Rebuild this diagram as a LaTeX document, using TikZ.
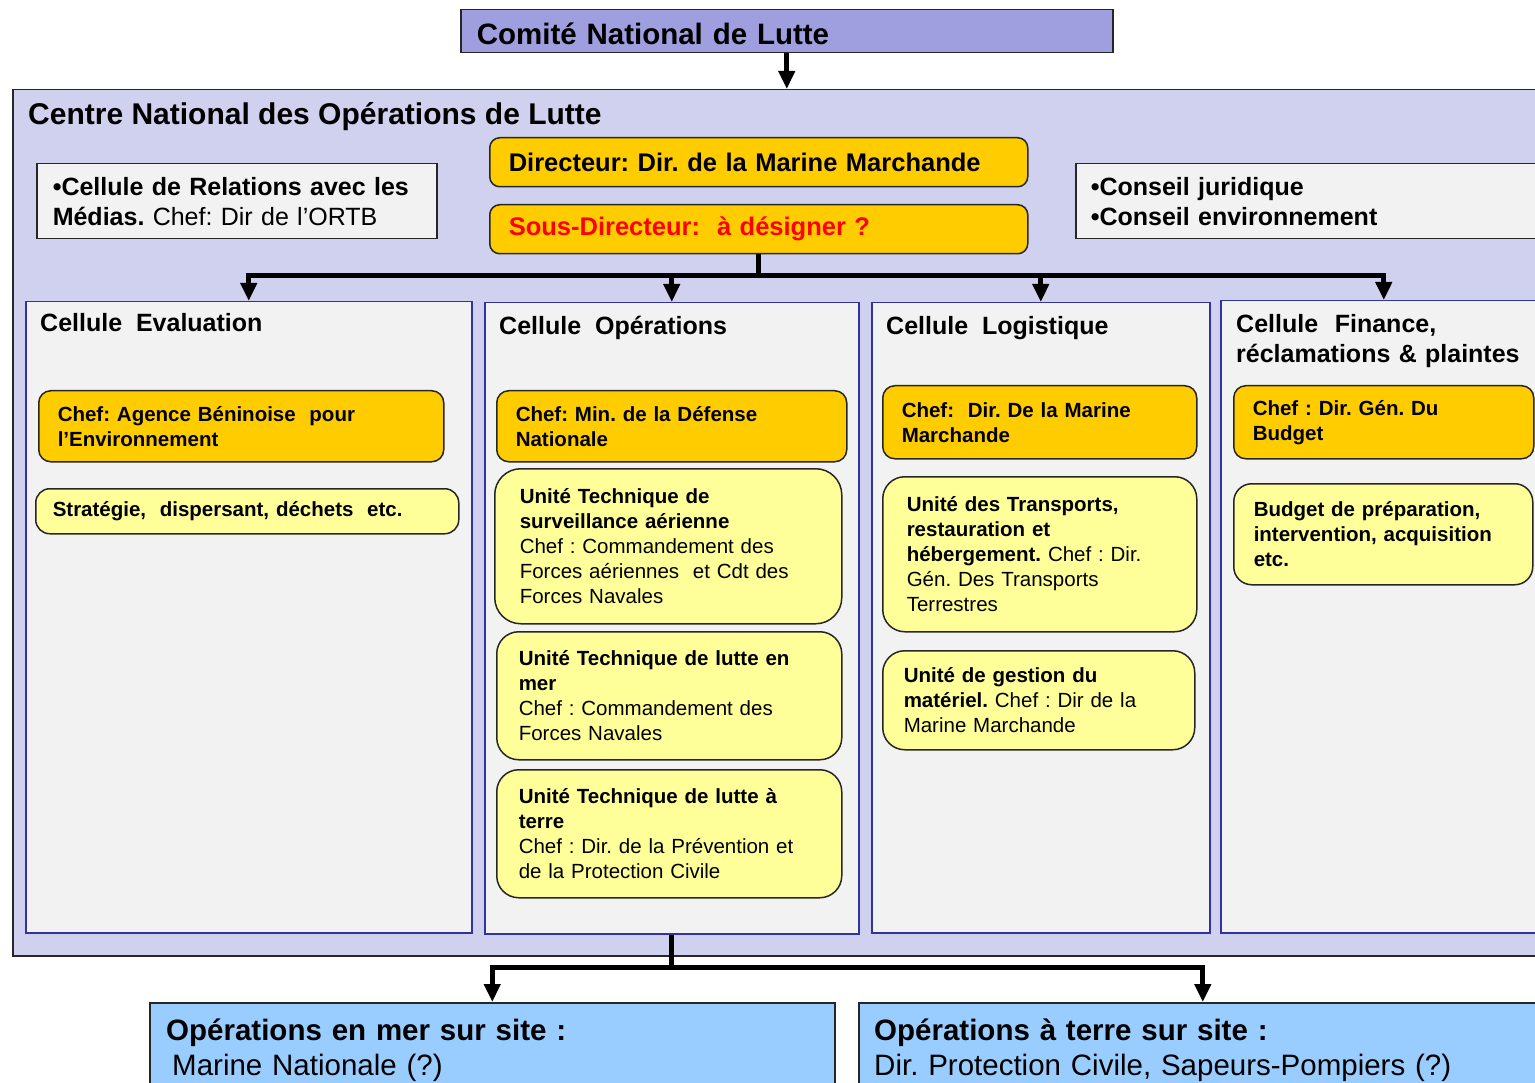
\documentclass[tikz,border=0pt]{standalone}
\usepackage{fontspec}
\setmainfont{Liberation Sans}
\usetikzlibrary{arrows.meta}
\definecolor{comite}{HTML}{9F9FDF}
\definecolor{centrebg}{HTML}{D0D0EF}
\definecolor{graybg}{HTML}{F2F2F2}
\definecolor{colborder}{HTML}{3333A0}
\definecolor{gold}{HTML}{FFCC00}
\definecolor{lightyel}{HTML}{FFFF99}
\definecolor{bluebg}{HTML}{99CCFF}
\definecolor{edge}{HTML}{262626}
\definecolor{redtxt}{HTML}{FF0000}
\newcommand\fsz[2]{\fontsize{#1}{#2}\selectfont}
\frenchspacing
\begin{document}
\begin{tikzpicture}[x=1pt,y=-1pt,
 box/.style={draw=edge, line width=1.5pt, anchor=north west, inner ysep=0pt, align=left},
 greybox/.style={box, fill=graybg, font=\fsz{25}{30}\bfseries},
 topbox/.style={box, fill=gold, rounded corners=10pt, font=\fsz{25.5}{30}\bfseries},
 chefbox/.style={box, fill=gold, rounded corners=12pt, font=\fsz{20.5}{25}\bfseries},
 unitbox/.style={box, fill=lightyel, rounded corners=22pt, font=\fsz{20.5}{25}},
 column/.style={draw=colborder, line width=1.5pt, fill=graybg, anchor=north west, inner sep=0pt},
 coltitle/.style={anchor=base west, inner sep=0pt, font=\fsz{25}{30}\bfseries, align=left},
 bluebox/.style={box, fill=bluebg, inner sep=0pt},
 bar/.style={line width=5pt},
 arr/.style={line width=5pt, -{Triangle[width=16pt,length=18pt]}},
]
\useasboundingbox (0,0) rectangle (1535,1083);
\clip (0,0) rectangle (1535,1083);

% top committee
\node[box, fill=comite, minimum width=652pt, minimum height=43pt, inner xsep=16pt, text width=620pt, text height=26pt, text depth=0pt, font=\fsz{29.5}{32}\bfseries] (comite) at (460,9) {Comité National de Lutte};

% centre
\node[box, fill=centrebg, minimum width=1540pt, minimum height=866pt, inner sep=0pt] (centre) at (12,89) {};
\draw[arr] (comite.south) -- (comite.south |- centre.north);
\node[anchor=base west, inner sep=0pt, font=\fsz{30}{32}\bfseries] (centretitle) at (28,125) {Centre National des Opérations de Lutte};

\node[greybox, minimum width=400pt, minimum height=75pt, inner xsep=16pt, text width=368pt] (media) at (36,163)
 {•Cellule de Relations avec les\\Médias.\mdseries{} Chef: Dir de l’ORTB};
\node[greybox, minimum width=470pt, minimum height=75pt, inner xsep=15pt, text width=440pt] (conseil) at (1075,163)
 {•Conseil juridique\\•Conseil environnement};

\node[topbox, minimum width=538pt, minimum height=49pt, inner xsep=19pt, text width=500pt] (dir) at (489,137)
 {Directeur: Dir. de la Marine Marchande};
\node[topbox, minimum width=538pt, minimum height=49pt, inner xsep=19pt, text width=500pt, text=redtxt] (sousdir) at (489,204)
 {Sous-Directeur:~ à désigner ?};

% columns
\node[column, minimum width=446pt, minimum height=631pt] (colE) at (25,301) {};
\node[column, minimum width=374pt, minimum height=631pt] (colO) at (484,302) {};
\node[column, minimum width=338pt, minimum height=630pt] (colL) at (871,302) {};
\node[column, minimum width=326pt, minimum height=632pt] (colF) at (1220,300) {};

\node[coltitle] (tE) at (40,332) {Cellule~ Evaluation};
\node[coltitle] (tO) at (499,335) {Cellule~ Opérations};
\node[coltitle] (tL) at (886,335) {Cellule~ Logistique};
\node[coltitle, text width=300pt] (tF) at (1236,333) {Cellule~ Finance,\\réclamations \& plaintes};

% bus from sous-directeur
\coordinate (bus) at (757,276);
\draw[bar] (sousdir.south) -- (sousdir.south |- bus);
\draw[bar, line cap=rect] (bus -| colE.north) -- (bus -| colF.north);
\foreach \c in {colE,colO,colL,colF} \draw[arr] (bus -| \c.north) -- (\c.north);

% Evaluation
\node[chefbox, minimum width=405pt, minimum height=71pt, inner xsep=19pt, text width=367pt] (chefE) at (38,390)
 {Chef: Agence Béninoise~ pour\\l’Environnement};
\node[unitbox, rounded corners=14pt, font=\fsz{20.5}{25}\bfseries, minimum width=423pt, minimum height=45pt, inner xsep=17pt, text width=389pt] (stratE) at (35,488)
 {Stratégie,~ dispersant, déchets~ etc.};

% Operations
\node[chefbox, minimum width=350pt, minimum height=71pt, inner xsep=19pt, text width=312pt] (chefO) at (496,390)
 {Chef: Min. de la Défense\\Nationale};
\node[unitbox, rounded corners=26pt, minimum width=347pt, minimum height=155pt, inner xsep=25pt, text width=297pt] (uO1) at (494,468)
 {\textbf{Unité Technique de}\\\textbf{surveillance aérienne}\\Chef : Commandement des\\Forces aériennes~ et Cdt des\\Forces Navales};
\node[unitbox, minimum width=345pt, minimum height=128pt, inner xsep=22pt, text width=301pt] (uO2) at (496,631)
 {\textbf{Unité Technique de lutte en}\\\textbf{mer}\\Chef : Commandement des\\Forces Navales};
\node[unitbox, minimum width=345pt, minimum height=128pt, inner xsep=22pt, text width=301pt] (uO3) at (496,769)
 {\textbf{Unité Technique de lutte à}\\\textbf{terre}\\Chef : Dir. de la Prévention et\\de la Protection Civile};

% Logistique
\node[chefbox, minimum width=314pt, minimum height=73pt, inner xsep=19pt, text width=276pt] (chefL) at (882,385)
 {Chef:~ Dir. De la Marine\\Marchande};
\node[unitbox, minimum width=314pt, minimum height=155pt, inner xsep=24pt, text width=266pt] (uL1) at (882,476)
 {\textbf{Unité des Transports,}\\\textbf{restauration et}\\\textbf{hébergement.} Chef : Dir.\\Gén. Des Transports\\Terrestres};
\node[unitbox, minimum width=312pt, minimum height=99pt, inner xsep=21pt, text width=270pt] (uL2) at (882,650)
 {\textbf{Unité de gestion du}\\\textbf{matériel.} Chef : Dir de la\\Marine Marchande};

% Finance
\node[chefbox, minimum width=300pt, minimum height=73pt, inner xsep=19pt, text width=262pt] (chefF) at (1233,385)
 {Chef : Dir. Gén. Du\\Budget};
\node[unitbox, rounded corners=18pt, font=\fsz{20.5}{25}\bfseries, minimum width=299pt, minimum height=101pt, inner xsep=20pt, text width=259pt] (budF) at (1233,483)
 {Budget de préparation,\\intervention, acquisition\\etc.};

% bottom boxes
\node[bluebox, minimum width=685pt, minimum height=120pt] (botL) at (149,1002) {};
\node[bluebox, minimum width=688pt, minimum height=120pt] (botR) at (858,1002) {};
\node[anchor=base west, inner sep=0pt, text width=660pt, align=left, font=\fsz{29.5}{35}] (botLtext) at (166,1040)
 {\textbf{Opérations en mer sur site :}\\\hspace*{6pt}Marine Nationale (?)};
\node[anchor=base west, inner sep=0pt, text width=660pt, align=left, font=\fsz{29.5}{35}] (botRtext) at (874,1040)
 {\textbf{Opérations à terre sur site :}\\Dir. Protection Civile, Sapeurs-Pompiers (?)};

\coordinate (bus2) at (671,967);
\draw[bar] (colO.south) -- (colO.south |- bus2);
\draw[bar, line cap=rect] (bus2 -| botL.north) -- (bus2 -| botR.north);
\draw[arr] (bus2 -| botL.north) -- (botL.north);
\draw[arr] (bus2 -| botR.north) -- (botR.north);
\end{tikzpicture}
\end{document}
